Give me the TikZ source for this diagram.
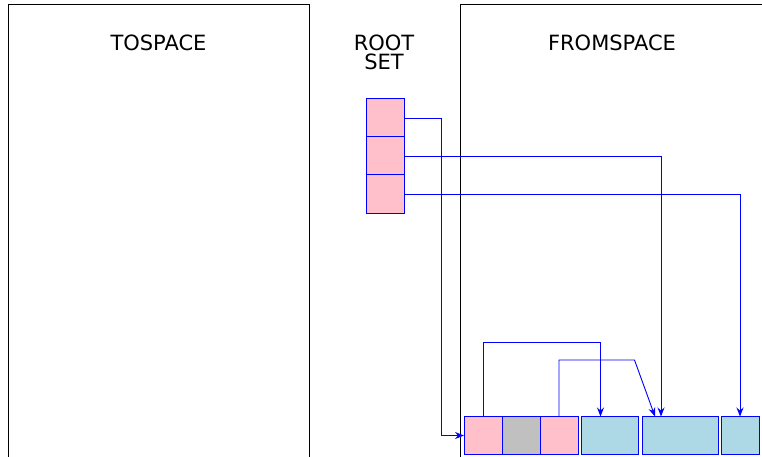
\documentclass[tikz,border=0pt]{standalone}
\usepackage{fontspec}
\setmainfont{DejaVu Sans}
\usetikzlibrary{arrows.meta}
\definecolor{cellpink}{RGB}{255,192,203}
\definecolor{cellgray}{RGB}{192,192,192}
\definecolor{cellblue}{RGB}{173,216,230}
\begin{document}
\begin{tikzpicture}[x=1pt,y=-1pt,
  frame/.style={draw=black,line width=0.8pt},
  cell/.style={draw=blue,line width=1pt,minimum height=38pt,inner sep=0pt,outer sep=0pt},
  lbl/.style={font=\fontsize{21}{18.5}\selectfont,align=center,inner sep=0pt},
  arr/.style={draw=blue,line width=0.9pt,-{Stealth[length=9pt,width=7pt,inset=3pt]}}]
\useasboundingbox (0,0) rectangle (762,457);
\begin{scope}
\clip (0,0) rectangle (762,457);
\draw[frame] (8,470) -- (8,4.5) -- (309,4.5) -- (309,470);
\draw[frame] (460,470) -- (460,4.5) -- (780,4.5);
\end{scope}
\node[lbl] (tolbl) at (158.5,43) {TOSPACE};
\node[lbl] (fromlbl) at (612,43) {FROMSPACE};
\node[lbl] (rootlbl) at (384,52.5) {ROOT\\SET};
% root set
\node[cell,fill=cellpink,minimum width=38pt] (r1) at (385,118) {};
\node[cell,fill=cellpink,minimum width=38pt] (r2) at (385,156) {};
\node[cell,fill=cellpink,minimum width=38pt] (r3) at (385,194) {};
\draw[blue,line width=1pt] (r1.south west) -- (r1.south east) (r2.south west) -- (r2.south east);
% fromspace objects
\node[cell,fill=cellpink,minimum width=38pt] (b1) at (483,435.5) {};
\node[cell,fill=cellgray,minimum width=38pt] (b2) at (521,435.5) {};
\node[cell,fill=cellpink,minimum width=38pt] (b3) at (559,435.5) {};
\node[cell,fill=cellblue,minimum width=57pt] (b4) at (609.5,435.5) {};
\node[cell,fill=cellblue,minimum width=76pt] (b5) at (680,435.5) {};
\node[cell,fill=cellblue,minimum width=38pt] (b6) at (740,435.5) {};
\draw[blue,line width=1pt] (b1.north east) -- (b1.south east) (b2.north east) -- (b2.south east);
% connectors
\coordinate (k1) at (441.5,118);
\coordinate (k2) at (634.5,360);
\draw[arr] (r1.east) -- (k1) |- (b1.west);
\draw[arr] (r2.east) -| ([xshift=-19pt]b5.north);
\draw[arr] (r3.east) -| (b6.north);
\draw[arr] (b1.north) -- ++(0,-74) -| ([xshift=-9pt]b4.north);
\draw[arr] (b3.north) |- (k2) -- ([xshift=-25pt]b5.north);
\end{tikzpicture}
\end{document}
